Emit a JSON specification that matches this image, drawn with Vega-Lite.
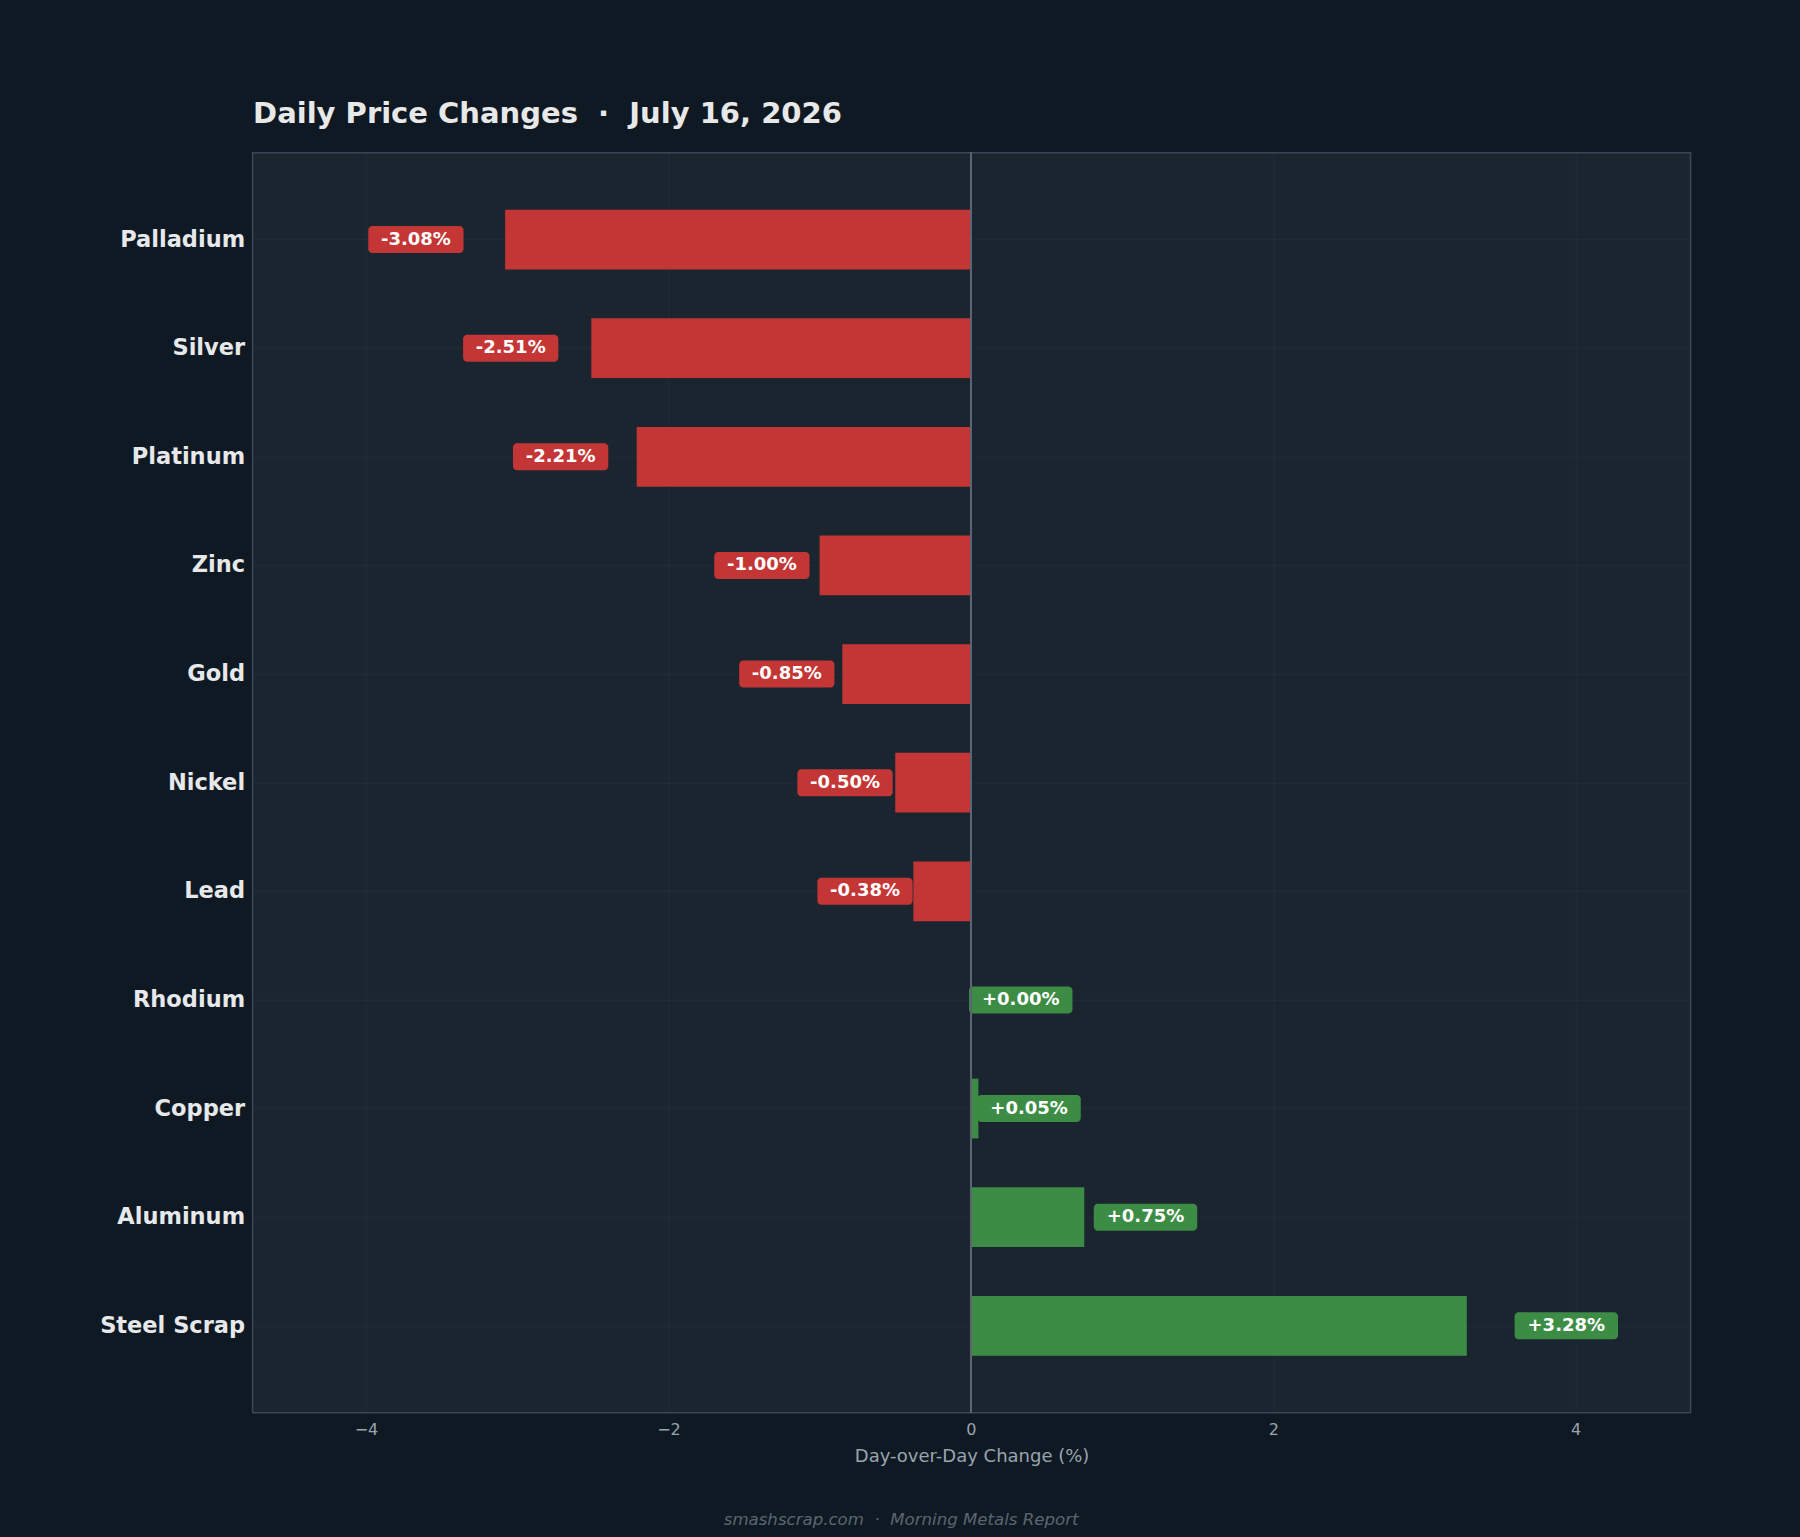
{
  "$schema": "https://vega.github.io/schema/vega-lite/v6.json",
  "width": 1438,
  "height": 1260,
  "autosize": {"type": "none"},
  "padding": {"left": 252.6, "top": 152.7, "right": 109.4, "bottom": 124.3},
  "background": "#0f1923",
  "config": {
    "font": "DejaVu Sans",
    "view": {"fill": "#1b2530", "stroke": "#3b4756", "strokeWidth": 1.5}
  },
  "data": {
    "values": [
      {"metal": "Palladium", "change": -3.08, "label": "-3.08%"},
      {"metal": "Silver", "change": -2.51, "label": "-2.51%"},
      {"metal": "Platinum", "change": -2.21, "label": "-2.21%"},
      {"metal": "Zinc", "change": -1.00, "label": "-1.00%"},
      {"metal": "Gold", "change": -0.85, "label": "-0.85%"},
      {"metal": "Nickel", "change": -0.50, "label": "-0.50%"},
      {"metal": "Lead", "change": -0.38, "label": "-0.38%"},
      {"metal": "Rhodium", "change": 0.00, "label": "+0.00%"},
      {"metal": "Copper", "change": 0.05, "label": "+0.05%"},
      {"metal": "Aluminum", "change": 0.75, "label": "+0.75%"},
      {"metal": "Steel Scrap", "change": 3.28, "label": "+3.28%"}
    ]
  },
  "transform": [
    {"calculate": "datum.change < 0 ? 1.1 * datum.change - 0.282 : 1.1 * datum.change + 0.33", "as": "lx"},
    {"calculate": "datum.change < 0 ? datum.lx - 0.315 : datum.lx - 0.342", "as": "bx1"},
    {"calculate": "datum.change < 0 ? datum.lx + 0.315 : datum.lx + 0.342", "as": "bx2"}
  ],
  "title": {
    "text": "smashscrap.com \u00a0·\u00a0 Morning Metals Report",
    "orient": "bottom",
    "anchor": "middle",
    "frame": "bounds",
    "dx": 6,
    "offset": 46,
    "fontStyle": "italic",
    "fontWeight": "normal",
    "fontSize": 16.6,
    "color": "#5b6570"
  },
  "resolve": {"axis": {"x": "independent"}},
  "layer": [
    {
      "mark": {"type": "bar"},
      "encoding": {
        "y": {
          "field": "metal", "type": "nominal", "sort": null,
          "scale": {"domain": ["Palladium","Silver","Platinum","Zinc","Gold","Nickel","Lead","Rhodium","Copper","Aluminum","Steel Scrap"], "paddingInner": 0.45, "paddingOuter": 0.525},
          "axis": {"title": null, "ticks": false, "domain": false, "labelPadding": 8, "labelFontSize": 22.5, "labelFontWeight": "bold", "labelColor": "#e6e8ea", "grid": true, "bandPosition": 0.5, "gridColor": "#ffffff", "gridOpacity": 0.035}
        },
        "x": {
          "field": "change", "type": "quantitative",
          "scale": {"domain": [-4.75, 4.76], "nice": false, "zero": false},
          "axis": {"orient": "bottom", "values": [-4, -2, 0, 2, 4], "ticks": false, "domain": false, "labelPadding": 9, "labelFontSize": 16, "labelColor": "#9aa4ae", "grid": true, "gridColor": "#ffffff", "gridOpacity": 0.035, "title": "Day-over-Day Change (%)", "titleFontSize": 18, "titleFontWeight": "normal", "titleColor": "#9aa4ae", "titlePadding": 10}
        },
        "color": {"condition": {"test": "datum.change < 0", "value": "#c43535"}, "value": "#3c8c45"}
      }
    },
    {
      "mark": {"type": "bar", "height": 27, "cornerRadius": 4},
      "encoding": {
        "y": {"field": "metal", "type": "nominal", "sort": null},
        "x": {"field": "bx1", "type": "quantitative", "axis": null},
        "x2": {"field": "bx2"},
        "color": {"condition": {"test": "datum.change < 0", "value": "#c43535"}, "value": "#3c8c45"}
      }
    },
    {
      "mark": {"type": "text", "font": "DejaVu Sans", "fontWeight": "bold", "fontSize": 18, "color": "#ffffff", "align": "center", "baseline": "middle"},
      "encoding": {
        "y": {"field": "metal", "type": "nominal", "sort": null},
        "x": {"field": "lx", "type": "quantitative", "axis": null},
        "text": {"field": "label"}
      }
    },
    {
      "mark": {"type": "rule", "color": "#5c6673", "strokeWidth": 1.5},
      "encoding": {
        "x": {
          "datum": 0, "type": "quantitative",
          "axis": {"orient": "top", "labels": false, "ticks": false, "domain": false, "grid": false, "title": "Daily Price Changes \u00a0·\u00a0 July 16, 2026", "titleX": 0, "titleY": -30, "titleAlign": "left", "titleAnchor": null, "titleBaseline": "alphabetic", "titleAngle": 0, "titleFontSize": 29, "titleFontWeight": "bold", "titleColor": "#e8e8e8"}
        }
      }
    }
  ]
}
